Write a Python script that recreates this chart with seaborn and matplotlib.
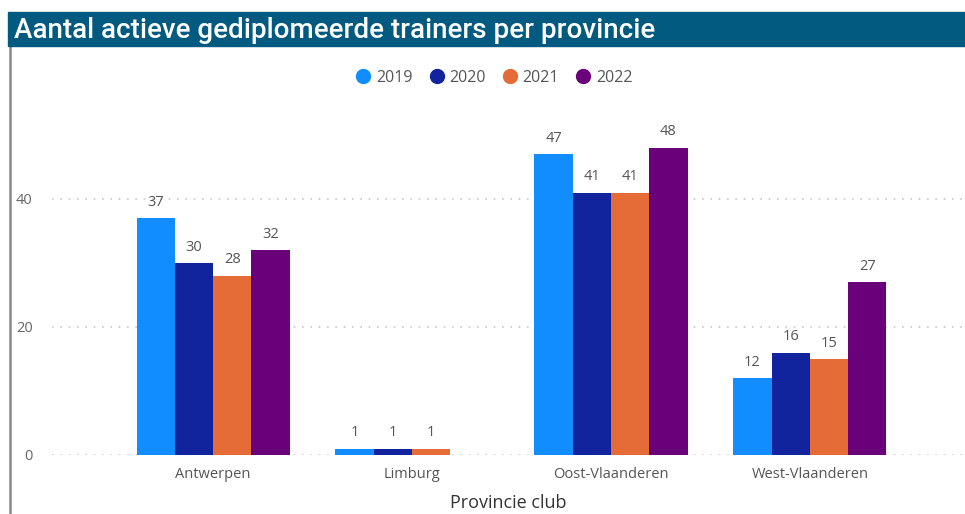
import numpy as np
import pandas as pd
import matplotlib
matplotlib.use("Agg")
import matplotlib.pyplot as plt
import matplotlib.patches as mpatches
from matplotlib.lines import Line2D
import seaborn as sns

# data
provinces = ["Antwerpen", "Limburg", "Oost-Vlaanderen", "West-Vlaanderen"]
years = ["2019", "2020", "2021", "2022"]
v2019 = [37, 1, 47, 12]
v2020 = [30, 1, 41, 16]
v2021 = [28, 1, 41, 15]
v2022 = [32, np.nan, 48, 27]
yticks = [0, 20, 40]
colors = ["#118DFF", "#12239E", "#E66C37", "#6B007B"]

sns.set_style("white")
plt.rcParams['font.family'] = ['Open Sans', 'DejaVu Sans']

rows = []
for year, vals in zip(years, [v2019, v2020, v2021, v2022]):
    for prov, v in zip(provinces, vals):
        rows.append({"provincie": prov, "jaar": year, "aantal": v})
df = pd.DataFrame(rows)

fig = plt.figure(figsize=(9.65, 5.14), dpi=100)
W, H = 965, 514
ax = fig.add_axes([52 / W, (514 - 455) / H, (965 - 52) / W, (455 - 103) / H])

sns.barplot(data=df, x="provincie", y="aantal", hue="jaar", palette=colors,
            saturation=1, width=0.77, linewidth=0, ax=ax, legend=False)

for cont in ax.containers:
    labels = ["" if np.isnan(v) else f"{int(v)}" for v in cont.datavalues]
    ax.bar_label(cont, labels=labels, padding=6, fontsize=10.5, color="#555555")

ax.set_ylim(0, 55)
ax.set_xlim(-0.81, 3.78)
ax.set_yticks(yticks)
ax.set_yticklabels([str(t) for t in yticks], fontsize=10.5, color="#666666")
ax.tick_params(axis="y", length=0, pad=14)
ax.tick_params(axis="x", length=0, pad=9, labelsize=10.5, labelcolor="#555555")
for t in yticks:
    ax.axhline(t, color="#c8c8c8", linestyle=(0, (1, 4)), linewidth=1.2, zorder=0)
for s in ax.spines.values():
    s.set_visible(False)
ax.set_ylabel("")
ax.set_xlabel("Provincie club", fontsize=13, color="#333333", labelpad=8)

# title bar
fig.patches.append(mpatches.Rectangle((8 / W, (514 - 46) / H), 1, 34 / H,
                                      transform=fig.transFigure, color="#035A80", zorder=5))
fig.text(14 / W, (514 - 30) / H, "Aantal actieve gediplomeerde trainers per provincie",
         color="white", fontsize=20, fontweight="medium", va="center", ha="left",
         family=["Roboto", "DejaVu Sans"], zorder=6)
fig.add_artist(Line2D([9.5 / W, 9.5 / W], [0, (514 - 46) / H], transform=fig.transFigure,
                      color="#8a8a8a", linewidth=1.8))

# legend with circles
handles = [Line2D([0], [0], marker="o", linestyle="", markersize=10,
                  markerfacecolor=c, markeredgecolor=c, label=y) for c, y in zip(colors, years)]
fig.legend(handles=handles, loc="center", bbox_to_anchor=(490 / W, (514 - 78) / H),
           ncol=4, frameon=False, fontsize=11.5, handletextpad=-0.2, columnspacing=0.5,
           labelcolor="#555555")

fig.savefig("out.png", dpi=100)
